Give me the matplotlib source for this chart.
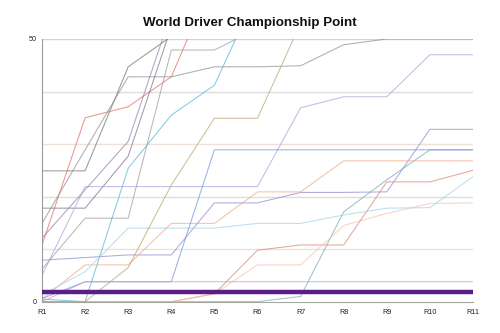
import matplotlib
matplotlib.use("Agg")
import matplotlib.pyplot as plt

rounds = ["R1", "R2", "R3", "R4", "R5", "R6", "R7", "R8", "R9", "R10", "R11"]

# cumulative points per driver (values above 50 run off the top of the chart)
pts_a = [24.9, 24.9, 44.7, 50.5, 56, 60, 64, 68, 72, 76, 80]
pts_b = [10.8, 35.0, 37.1, 42.8, 62, 66, 70, 74, 78, 82, 86]
pts_c = [14.9, 28.9, 42.8, 42.8, 44.7, 44.7, 44.9, 48.9, 50, 50, 50]
pts_d = [17.8, 17.8, 27.7, 52.3, 60, 64, 68, 72, 76, 80, 84]
pts_e = [6.2, 15.9, 15.9, 47.9, 47.9, 52, 58, 62, 66, 70, 74]
pts_f = [0.5, 0, 25.4, 35.5, 41.2, 59, 63, 67, 71, 75, 79]
pts_g = [5.0, 21.9, 21.9, 21.9, 21.9, 21.9, 36.9, 39.0, 39.0, 47.0, 47.0]
pts_h = [7.9, 8.4, 8.9, 8.9, 18.8, 18.8, 20.8, 20.8, 20.9, 32.8, 32.8]
pts_i = [0, 0, 0, 0, 0, 0, 1.0, 17.1, 23.2, 28.9, 28.9]
pts_j = [0.5, 7.0, 7.0, 14.9, 14.9, 20.9, 20.9, 26.8, 26.8, 26.8, 26.8]
pts_k = [0, 0, 0, 0, 1.5, 9.8, 10.8, 10.8, 22.8, 22.8, 25.0]
pts_l = [0, 0, 0, 0, 1.5, 7.0, 7.0, 14.5, 16.8, 18.7, 18.8]
pts_m = [1.3, 5.7, 14.0, 14.0, 14.0, 14.9, 14.9, 16.5, 17.8, 17.9, 23.8]
pts_o = [0, 0, 6.5, 22.2, 34.9, 34.9, 53, 58, 62, 66, 70]
pts_p = [0.6, 3.8, 3.8, 3.8, 28.9, 28.9, 28.9, 28.9, 28.9, 28.9, 28.9]
pts_q = [0, 3.8, 3.8, 3.8, 3.8, 3.8, 3.8, 3.8, 3.8, 3.8, 3.8]
pts_s = [12.1, 21.3, 30.5, 55, 60, 64, 68, 72, 76, 80, 84]
pts_r = [1.9, 1.9, 1.9, 1.9, 1.9, 1.9, 1.9, 1.9, 1.9, 1.9, 1.9]

y_ticks = [0, 50]
grid_levels = [10, 20, 30, 40, 50]

series = [
    (pts_a, "#6e6e6e"),
    (pts_b, "#e06c5c"),
    (pts_c, "#8c8c8c"),
    (pts_d, "#7d6b87"),
    (pts_e, "#9a9a9a"),
    (pts_f, "#4fb3d9"),
    (pts_g, "#a7a0dc"),
    (pts_h, "#8a86d0"),
    (pts_i, "#6fa9b8"),
    (pts_j, "#f4a582"),
    (pts_k, "#e08070"),
    (pts_l, "#f3c1b0"),
    (pts_m, "#9fd0e6"),
    (pts_o, "#b5a46a"),
    (pts_p, "#6f8fe0"),
    (pts_q, "#c79ad0"),
    (pts_s, "#8e7ea6"),
]

plt.rcParams["font.family"] = ["Liberation Sans", "DejaVu Sans"]

fig = plt.figure(figsize=(5.0, 3.33), dpi=100)
ax = fig.add_axes([0.084, 0.094, 0.862, 0.789])

x = list(range(len(rounds)))

grid_colors = {10: "#eee2d8", 20: "#dedede", 30: "#eee2d8", 40: "#dedede", 50: "#d4d4d4"}
for lvl in grid_levels:
    ax.axhline(lvl, color=grid_colors[lvl], lw=1.0, zorder=0)

for vals, col in series:
    ax.plot(x, vals, color=col, lw=0.75, alpha=0.7, zorder=2, solid_joinstyle="miter")

ax.plot(x, pts_r, color="#5a1e86", lw=3.2, zorder=3, solid_capstyle="butt")

ax.set_xlim(0, len(rounds) - 1)
ax.set_ylim(0, 50)
ax.set_xticks(x)
ax.set_xticklabels(rounds)
ax.set_yticks(y_ticks)
ax.set_yticklabels([str(v) for v in y_ticks])
ax.tick_params(axis="both", length=0, labelsize=5.2, colors="#222222")
ax.tick_params(axis="x", pad=5)
ax.tick_params(axis="y", pad=4)

for side in ("top", "right"):
    ax.spines[side].set_visible(False)
ax.spines["left"].set_color("#9a9a9a")
ax.spines["left"].set_linewidth(0.8)
ax.spines["bottom"].set_color("#a4a89a")
ax.spines["bottom"].set_linewidth(0.8)

fig.text(0.5, 0.932, "World Driver Championship Point", ha="center", va="center",
         fontsize=9.6, fontweight="bold", color="#111111")

fig.savefig("out.png", dpi=100, facecolor="white")
